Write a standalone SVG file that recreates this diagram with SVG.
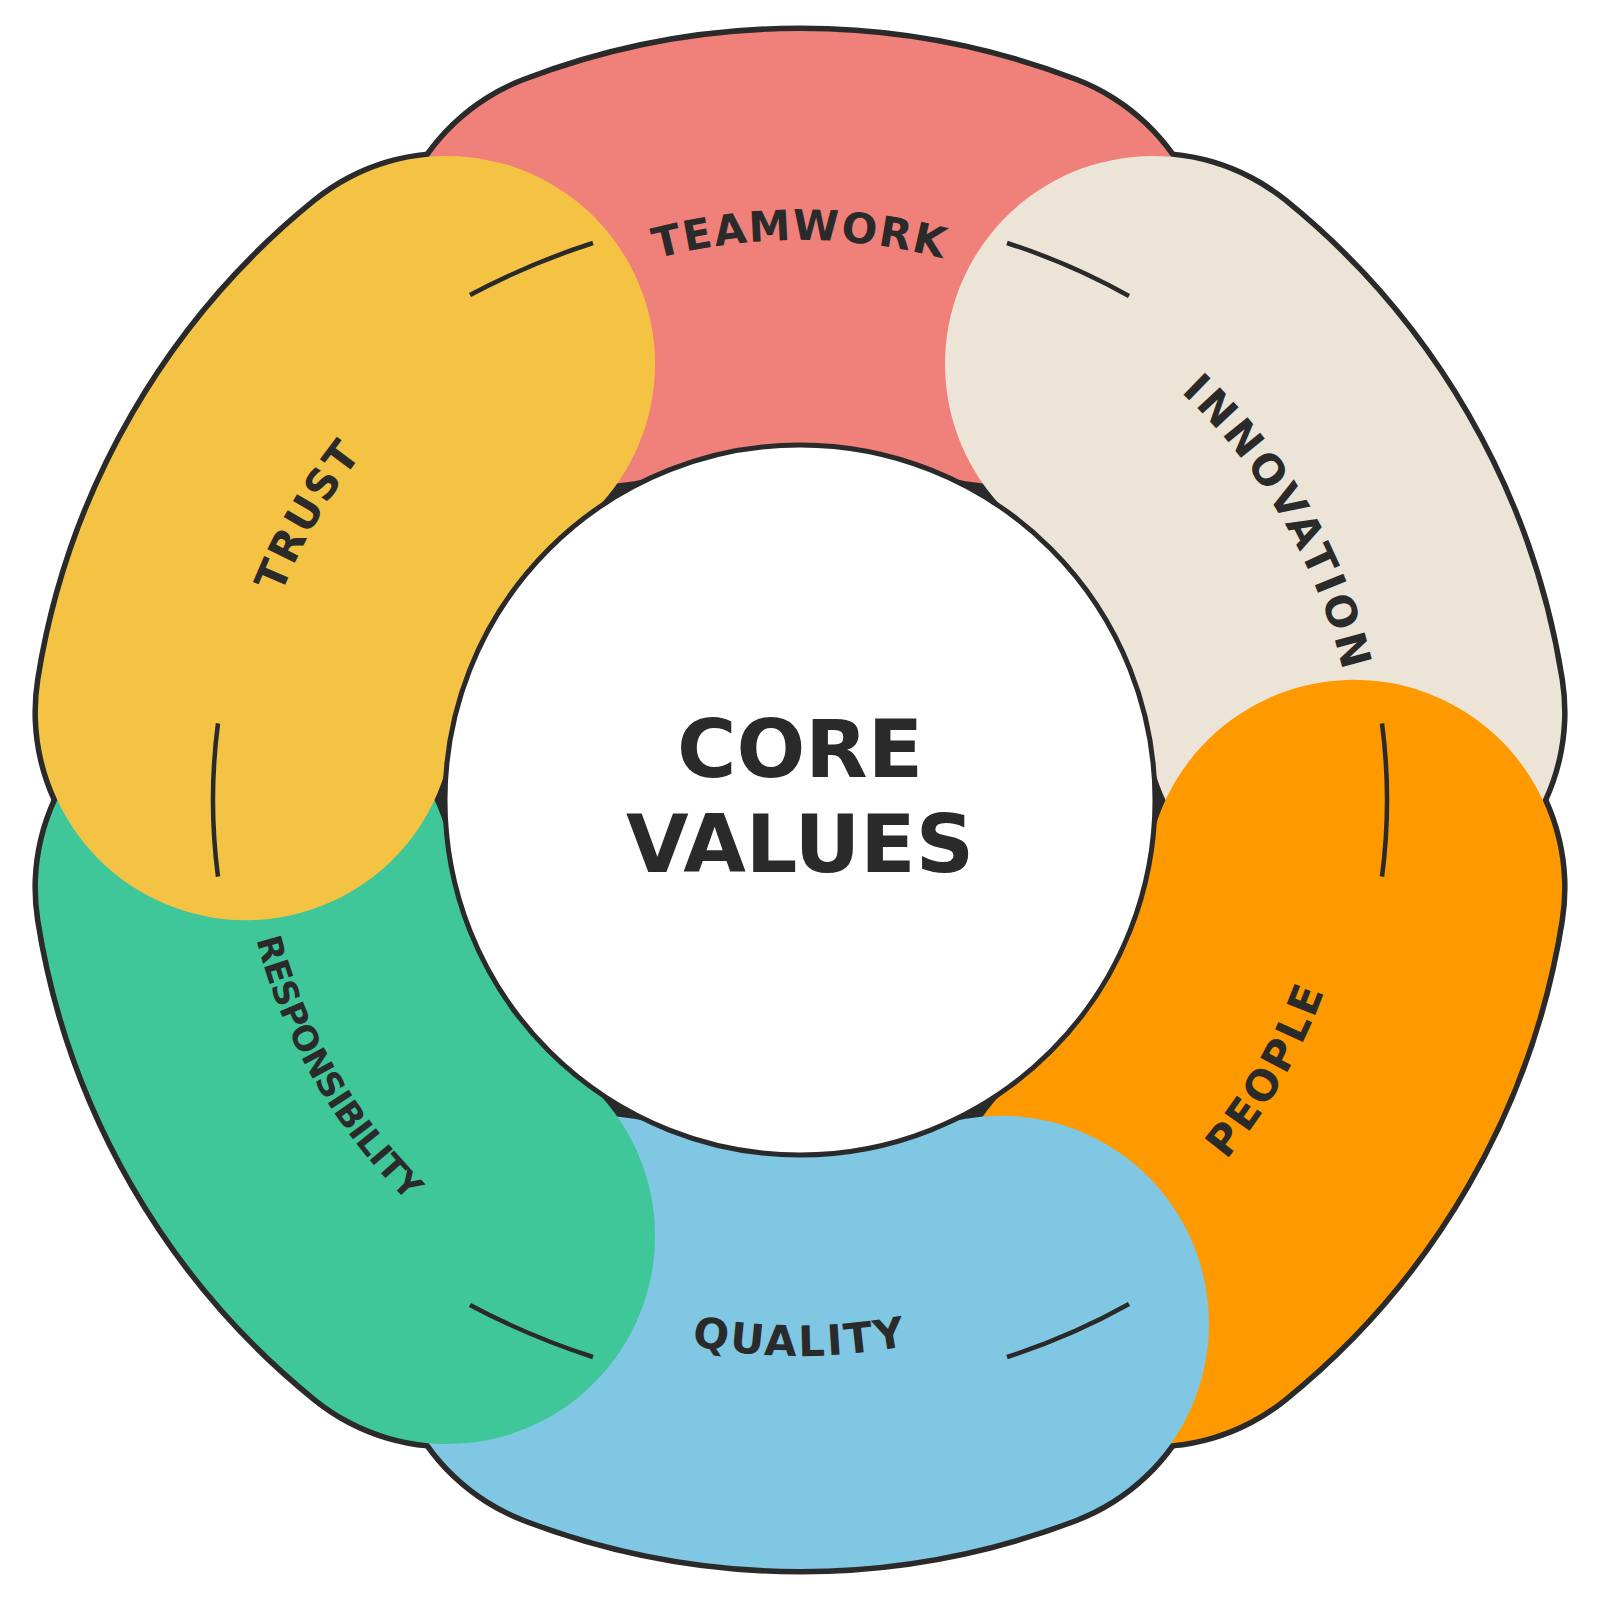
<svg xmlns="http://www.w3.org/2000/svg" width="1600" height="1600" viewBox="0 0 1600 1600">
<style>
.outline{fill:none;stroke:#2a2a2a;stroke-width:427;stroke-linecap:round}
.cap{fill:none;stroke-width:416;stroke-linecap:round}
.lbl{font-family:"DejaVu Sans","Liberation Sans",sans-serif;font-weight:bold;font-size:42px;fill:#2a2a2a}
.tick{fill:none;stroke:#2a2a2a;stroke-width:4.5}
</style>
<defs>
<path id="pTop0" d="M 240 800 A 560 560 0 0 1 1360 800"/>
<path id="pTop60" d="M 520 315.03 A 560 560 0 0 1 1080 1284.97"/>
<path id="pTop300" d="M 520 1284.97 A 560 560 0 0 1 1080 315.03"/>
<path id="pBot180" d="M 244 800 A 556 556 0 0 0 1356 800"/>
<path id="pBot120" d="M 520 1284.97 A 560 560 0 0 0 1080 315.03"/>
<path id="pBot240" d="M 518 311.57 A 564 564 0 0 0 1082 1288.43"/>
</defs>
<rect width="1600" height="1600" fill="#ffffff"/>
<g id="ring-outline">
<path class="outline" d="M 599 276.3 A 561 561 0 0 1 1001 276.3"/>
<path class="outline" d="M 1153 364 A 561 561 0 0 1 1354.1 712.2"/>
<path class="outline" d="M 1354.1 887.8 A 561 561 0 0 1 1153 1236"/>
<path class="outline" d="M 1001 1323.7 A 561 561 0 0 1 599 1323.7"/>
<path class="outline" d="M 447 1236 A 561 561 0 0 1 245.9 887.8"/>
<path class="outline" d="M 245.9 712.2 A 561 561 0 0 1 447 364"/>
<circle cx="800" cy="800" r="360" fill="#2a2a2a"/>
</g>
<g id="teamwork">
<path class="cap" stroke="#F0817A" d="M 599 276.3 A 561 561 0 0 1 1001 276.3"/>
<text class="lbl" letter-spacing="1.5"><textPath href="#pTop0" startOffset="50%" text-anchor="middle">TEAMWORK</textPath></text>
</g>
<g id="innovation">
<path class="cap" stroke="#ECE4D7" d="M 1153 364 A 561 561 0 0 1 1354.1 712.2"/>
<text class="lbl" letter-spacing="3.6"><textPath href="#pTop60" startOffset="50%" text-anchor="middle">INNOVATION</textPath></text>
</g>
<g id="people">
<path class="cap" stroke="#FE9A00" d="M 1354.1 887.8 A 561 561 0 0 1 1153 1236"/>
<text class="lbl" letter-spacing="2.9"><textPath href="#pBot120" startOffset="50%" text-anchor="middle">PEOPLE</textPath></text>
</g>
<g id="quality">
<path class="cap" stroke="#7FC7E3" d="M 1001 1323.7 A 561 561 0 0 1 599 1323.7"/>
<text class="lbl" letter-spacing="2.3"><textPath href="#pBot180" startOffset="50%" text-anchor="middle">QUALITY</textPath></text>
</g>
<g id="responsibility">
<path class="cap" stroke="#40C799" d="M 447 1236 A 561 561 0 0 1 245.9 887.8"/>
<text class="lbl" style="font-size:34px" letter-spacing="-0.6"><textPath href="#pBot240" startOffset="50%" text-anchor="middle">RESPONSIBILITY</textPath></text>
</g>
<g id="trust">
<path class="cap" stroke="#F5C344" d="M 245.9 712.2 A 561 561 0 0 1 447 364"/>
<text class="lbl" letter-spacing="1.9"><textPath href="#pTop300" startOffset="50%" text-anchor="middle">TRUST</textPath></text>
</g>
<g id="core">
<circle cx="800" cy="800" r="355" fill="#ffffff" stroke="#2a2a2a" stroke-width="5"/>
<text x="800" y="777" text-anchor="middle" font-family="DejaVu Sans, Liberation Sans, sans-serif" font-weight="bold" font-size="81" fill="#2a2a2a">CORE</text>
<text x="800" y="872" text-anchor="middle" font-family="DejaVu Sans, Liberation Sans, sans-serif" font-weight="bold" font-size="81" fill="#2a2a2a">VALUES</text>
</g>
<g id="connectors">
<path class="tick" d="M 470 295 Q 529.3 263.4 593 243"/>
<path class="tick" d="M 1007 243 Q 1070.7 263.4 1129 296"/>
<path class="tick" d="M 1382 723.4 A 587 587 0 0 1 1382 876.6"/>
<path class="tick" d="M 1129 1304 Q 1070.7 1336.6 1007 1357"/>
<path class="tick" d="M 593 1357 Q 529.3 1336.6 470 1305"/>
<path class="tick" d="M 218 876.6 A 587 587 0 0 1 218 723.4"/>
</g>
</svg>
